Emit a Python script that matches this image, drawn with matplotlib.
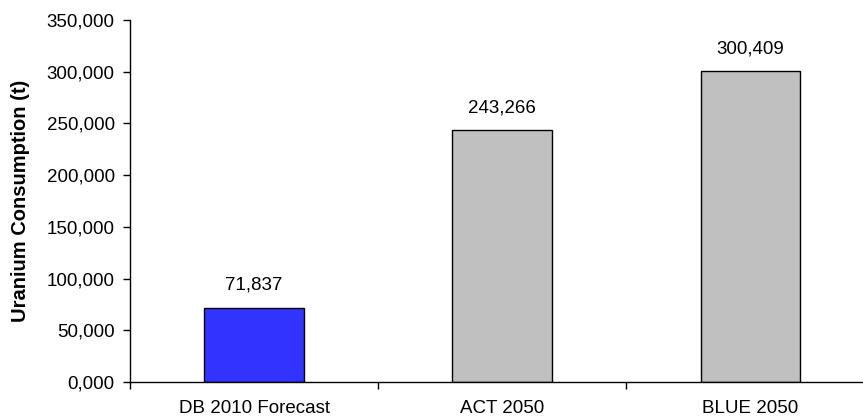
import matplotlib.pyplot as plt
from matplotlib.ticker import FuncFormatter, FixedLocator

plt.rcParams['font.family'] = ['Liberation Sans', 'DejaVu Sans']

# scenario data
categories = ["DB 2010 Forecast", "ACT 2050", "BLUE 2050"]
consumption = [71837, 243266, 300409]
bar_colors = ["#3333FF", "#C0C0C0", "#C0C0C0"]

FS = 13.5

fig = plt.figure(figsize=(8.63, 4.18), dpi=100)
ax = fig.add_axes([130 / 863, 36 / 418, (863 - 130) / 863, (382 - 20) / 418])

x = list(range(len(categories)))
bars = ax.bar(x, consumption, width=0.40, color=bar_colors,
              edgecolor="black", linewidth=1.0)

for xi, v in zip(x, consumption):
    ax.annotate(f"{v:,}", (xi, v), xytext=(0, 10), textcoords="offset points",
                ha="center", va="bottom", fontsize=FS)

ax.set_xlim(-0.5, 2.455)
ax.set_ylim(0, 350000)
ax.set_yticks(range(0, 350001, 50000))
ax.yaxis.set_major_formatter(FuncFormatter(
    lambda v, p: "0,000" if v == 0 else f"{v:,.0f}"))

# category labels centred, tick marks between categories
ax.set_xticks(x)
ax.set_xticklabels(categories, fontsize=FS)
ax.tick_params(axis="x", which="major", length=0, pad=13)
ax.xaxis.set_minor_locator(FixedLocator([-0.5, 0.5, 1.5]))
ax.tick_params(axis="x", which="minor", length=5, width=1, direction="out")
ax.tick_params(axis="y", length=5, width=1, direction="out", labelsize=FS, pad=6)

ax.set_ylabel("Uranium Consumption (t)", fontsize=14.5, fontweight="bold")
ax.yaxis.set_label_coords((30 - 130) / 733, 0.5)

for side in ["top", "right"]:
    ax.spines[side].set_visible(False)
for side in ["left", "bottom"]:
    ax.spines[side].set_linewidth(1.0)
    ax.spines[side].set_color("black")

fig.savefig("out.png", dpi=100)
